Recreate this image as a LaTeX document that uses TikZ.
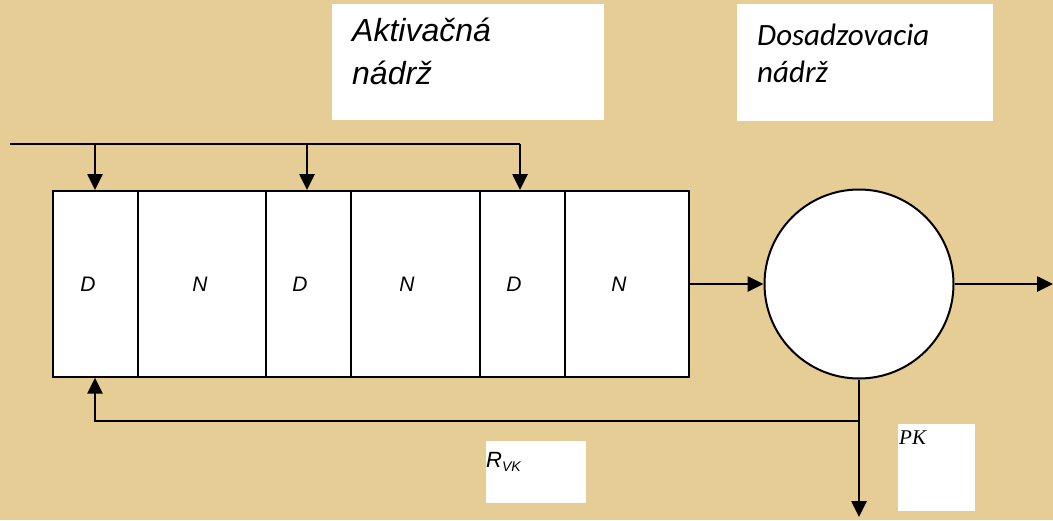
\documentclass[tikz,border=0pt]{standalone}
\usepackage{fontspec}
\setmainfont{Liberation Sans}
\newfontfamily\calfont{Carlito}
\newfontfamily\timesfont{Liberation Serif}
\usetikzlibrary{arrows.meta}
\definecolor{parch}{RGB}{230,205,150}
\tikzset{
  line/.style={line width=2.6pt, black},
  arr/.style={line, -{Triangle[length=16pt,width=15pt]}},
  cell/.style={draw, line width=1.6pt, fill=white, minimum height=186pt, inner sep=0pt, anchor=north west},
  lab/.style={font=\fontsize{21}{23}\selectfont\itshape},
  wbox/.style={fill=white, inner sep=0pt, anchor=north west},
  ttl/.style={anchor=base west, align=left, inner sep=0pt},
}
\begin{document}
\begin{tikzpicture}[x=1pt,y=-1pt]
\useasboundingbox[fill=parch] (0,0) rectangle (1053,520);
% title boxes
\node[wbox, minimum width=272pt, minimum height=116pt] (ab) at (332,4) {};
\node[ttl, font=\fontsize{32}{43}\selectfont\itshape] (at) at (352,84) {Aktivačná\\nádrž};
\node[wbox, minimum width=256pt, minimum height=117pt] (db) at (737,4) {};
\node[ttl, font=\calfont\fontsize{31}{37}\selectfont\itshape] (dt) at (757,82) {Dosadzovacia\\nádrž};
% cells
\node[cell, minimum width=85pt] (c1) at (52,190) {};
\node[cell, minimum width=128pt] (c2) at (137,190) {};
\node[cell, minimum width=85pt] (c3) at (265,190) {};
\node[cell, minimum width=129pt] (c4) at (350,190) {};
\node[cell, minimum width=85pt] (c5) at (479,190) {};
\node[cell, minimum width=124pt] (c6) at (564,190) {};
\node[lab] (l1) at (88,284) {D};
\node[lab] (l2) at (200,284) {N};
\node[lab] (l3) at (300,284) {D};
\node[lab] (l4) at (407,284) {N};
\node[lab] (l5) at (514,284) {D};
\node[lab] (l6) at (619,284) {N};
% clarifier
\node[draw, circle, line width=2pt, fill=white, minimum size=189pt, inner sep=0pt] (cl) at (859,284) {};
% top feed line
\coordinate (f0) at (10,144);
\coordinate (f1) at (95,144);
\coordinate (f2) at (307,144);
\coordinate (f3) at (520,144);
\draw[line] (f0) -- (f3);
\draw[arr] (f1) -- (f1 |- c1.north);
\draw[arr] (f2) -- (f2 |- c3.north);
\draw[arr] (f3) -- (f3 |- c5.north);
% flows
\draw[arr] (c6.east |- cl.west) -- (cl.west);
\coordinate (out) at (1053,284);
\draw[arr] (cl.east) -- (out);
\coordinate (bot) at (859,517);
\draw[arr] (cl.south) -- (bot);
\coordinate (r1) at (859,421);
\coordinate (r2) at (95,421);
\draw[arr] (r1) -- (r2) -- (r2 |- c1.south);
% label boxes
\node[wbox, minimum width=100pt, minimum height=62pt] (rb) at (486,441) {};
\node[anchor=base west, inner sep=0pt, font=\fontsize{22}{24}\selectfont\itshape] (rt) at (486,467) {R\raisebox{-4pt}{\fontsize{14}{15}\selectfont VK}};
\node[wbox, minimum width=77pt, minimum height=87pt] (pb) at (898,424) {};
\node[anchor=base west, inner sep=0pt, font=\timesfont\fontsize{21}{23}\selectfont\itshape] (pt) at (899,444) {PK};
\end{tikzpicture}
\end{document}
